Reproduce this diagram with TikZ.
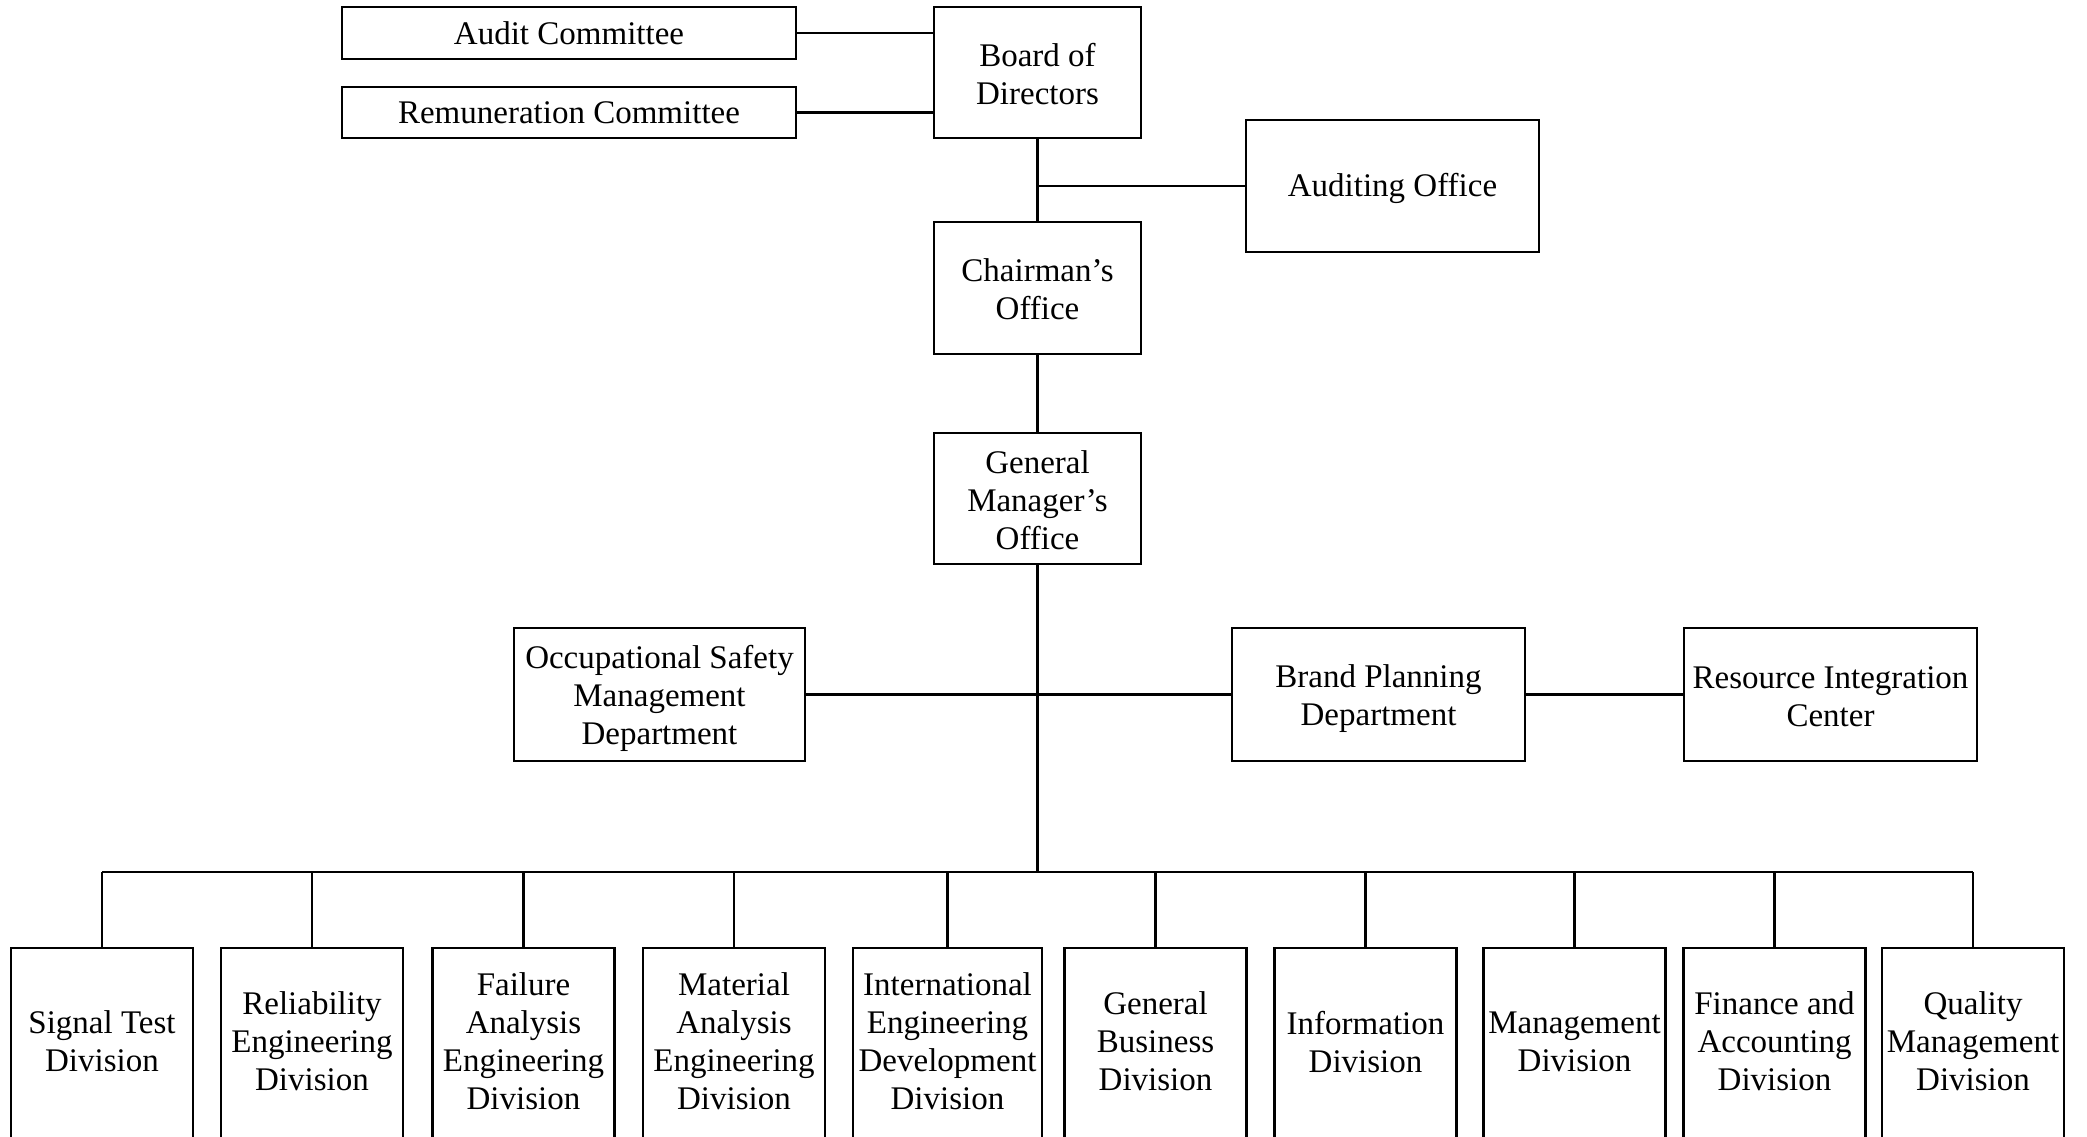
\documentclass[tikz,border=0pt]{standalone}
\usepackage{fontspec}
\setmainfont{Liberation Serif}
% invisible strut that pushes the first text line of a box downwards
\newcommand{\dnstrut}[1]{\rule{0pt}{#1}}
\begin{document}
\begin{tikzpicture}[x=0.5pt,y=-0.5pt,
  orgbox/.style={draw, line width=1.05pt, inner sep=0pt, align=center,
    font=\fontsize{16.5pt}{19pt}\selectfont},
  raise/.style={execute at end node={\rule[-#1]{0pt}{0pt}}},
  link/.style={line width=1.05pt}]
\useasboundingbox (0,0) rectangle (2087,1136);

% top management
\node[orgbox, minimum width=227pt, minimum height=26pt] (audit) at (569,33) {Audit Committee};
\node[orgbox, minimum width=227pt, minimum height=25.5pt] (remun) at (569,112.5) {Remuneration Committee};
\node[orgbox, minimum width=103.5pt, minimum height=65.5pt] (board) at (1037.5,72.5) {\dnstrut{12.8pt}Board of\\Directors};
\node[orgbox, minimum width=146.5pt, minimum height=66pt] (auditing) at (1392.5,186) {\dnstrut{14pt}Auditing Office};
\node[orgbox, minimum width=103.5pt, minimum height=66pt] (chair) at (1037.5,288) {\dnstrut{12.8pt}Chairman’s\\Office};
\node[orgbox, minimum width=103.5pt, minimum height=65.5pt] (gm) at (1037.5,498.5) {\dnstrut{12.8pt}General\\Manager’s\\Office};

% staff units
\node[orgbox, minimum width=145.5pt, minimum height=66.5pt] (occ) at (659.5,694.5) {\dnstrut{15.8pt}Occupational Safety\\Management\\Department};
\node[orgbox, minimum width=146.5pt, minimum height=66.5pt] (brand) at (1378.5,694.5) {\dnstrut{15.5pt}Brand Planning\\Department};
\node[orgbox, minimum width=146.5pt, minimum height=66.5pt] (resource) at (1830.5,694.5) {\dnstrut{13.5pt}Resource Integration\\Center};

% divisions
\tikzset{divbox/.style={orgbox, raise=2.5pt, minimum width=91pt, minimum height=96pt}}
\node[divbox] (d1) at (102,1044) {Signal Test\\Division};
\node[divbox] (d2) at (312,1044) {Reliability\\Engineering\\Division};
\node[divbox] (d3) at (523.5,1044) {Failure\\Analysis\\Engineering\\Division};
\node[divbox] (d4) at (734,1044) {Material\\Analysis\\Engineering\\Division};
\node[divbox, minimum width=94.5pt] (d5) at (947.5,1044) {International\\Engineering\\Development\\Division};
\node[divbox] (d6) at (1155.5,1044) {General\\Business\\Division};
\node[divbox] (d7) at (1365.5,1044) {Information\\Division};
\node[divbox] (d8) at (1574.5,1044) {Management\\Division};
\node[divbox] (d9) at (1774.5,1044) {Finance and\\Accounting\\Division};
\node[divbox] (d10) at (1973,1044) {Quality\\Management\\Division};

% connectors
\draw[link] (audit.east) -- (audit.east -| board.west);
\draw[link] (remun.east) -- (remun.east -| board.west);
\draw[link] (board.south) -- (chair.north);
\coordinate (audj) at (board.south |- auditing.west);
\draw[link] (audj) -- (auditing.west);
\draw[link] (chair.south) -- (gm.north);
\coordinate (busj) at (1037.5,872);
\draw[link] (gm.south) -- (busj);
\draw[link] (occ.east) -- (brand.west);
\draw[link] (brand.east) -- (resource.west);
\draw[link] (d1.north |- busj) -- (d10.north |- busj);
\foreach \d in {d1,d2,d3,d4,d5,d6,d7,d8,d9,d10}
  \draw[link] (\d.north |- busj) -- (\d.north);
\end{tikzpicture}
\end{document}
